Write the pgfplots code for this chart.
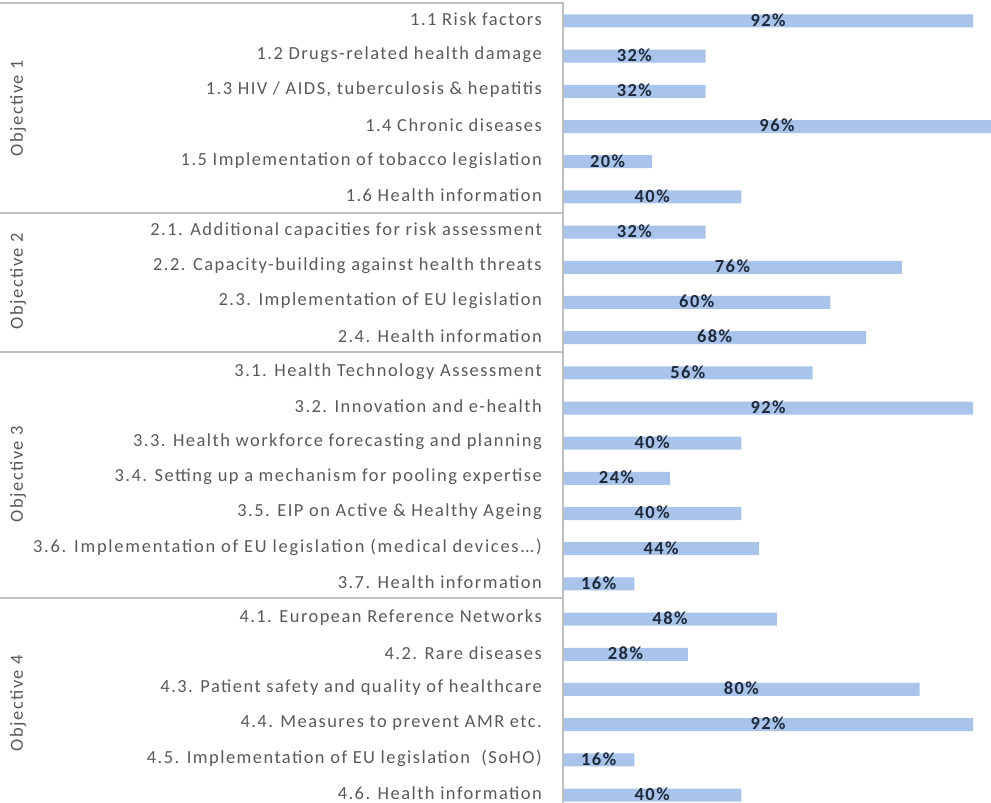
\documentclass[border=0pt]{standalone}
\usepackage{fontspec}
\setmainfont{Carlito}[LetterSpace=8]
\usepackage{pgfplots}
\usepackage{pgfplotstable}
\pgfplotsset{compat=1.18}
\definecolor{barblue}{RGB}{169,196,235}
\definecolor{lblgray}{RGB}{89,89,89}
\definecolor{valdark}{RGB}{30,42,60}
\definecolor{linegray}{RGB}{191,191,191}
\pgfplotstableread{
y v
22 92
21 32
20 32
19 96
18 20
17 40
16 32
15 76
14 60
13 68
12 56
11 92
10 40
9 24
8 40
7 44
6 16
5 48
4 28
3 80
2 92
1 16
0 40
}\datatable
\newcommand{\lblfont}{\fontsize{18.5}{20}\selectfont}
\newcommand{\threedots}{.\kern0pt.\kern0pt.}
\begin{document}
\begin{tikzpicture}
\useasboundingbox (0,0) rectangle (991bp,803bp);
\begin{axis}[
  at={(563bp,0bp)}, anchor=south west,
  scale only axis, width=428bp, height=803bp,
  xmin=0, xmax=96, ymin=-0.227, ymax=22.597,
  axis line style={draw=none},
  major tick length=0pt,
  xtick=\empty,
  ytick={0,1,2,3,4,5,6,7,8,9,10,11,12,13,14,15,16,17,18,19,20,21,22},
  yticklabels={
    {4.6. Health information},
    {4.5. Implementation of EU legislation\ \ (SoHO)},
    {4.4. Measures to prevent AMR etc.},
    {4.3. Patient safety and quality of healthcare},
    {4.2. Rare diseases\ },
    {4.1. European Reference Networks},
    {3.7. Health information},
    {\addfontfeature{LetterSpace=9.5}3.6. Implementation of EU legislation (medical devices\threedots)},
    {3.5. EIP on Active \& Healthy Ageing\ },
    {3.4. Setting up a mechanism for pooling expertise},
    {3.3. Health workforce forecasting and planning},
    {3.2. Innovation and e-health\ },
    {3.1. Health Technology Assessment\ },
    {2.4. Health information\ },
    {2.3. Implementation of EU legislation},
    {2.2. Capacity-building against health threats},
    {2.1. Additional capacities for risk assessment\ },
    {1.6 Health information},
    {1.5 Implementation of tobacco legislation},
    {1.4 Chronic diseases\ },
    {1.3 HIV / AIDS, tuberculosis \& hepatitis},
    {1.2 Drugs-related health damage},
    {1.1 Risk factors}
  },
  yticklabel style={font=\lblfont, text=lblgray, anchor=east, inner sep=0pt, xshift=-21bp, yshift=1.5bp},
  clip=false,
]
\addplot[xbar, bar width=13bp, fill=barblue, draw=none] table[x=v, y=y]{\datatable};
\addplot[draw=none, mark=none, nodes near coords={\pgfplotspointmeta\%},
  point meta=explicit symbolic,
  nodes near coords style={anchor=center, inner sep=0pt, yshift=1bp, font=\bfseries\lblfont, text=valdark}]
  table[x expr=\thisrow{v}/2, y=y, meta=v]{\datatable};
\end{axis}
\draw[linegray, line width=1.2bp] (0,800bp) -- (563bp,800bp) -- (563bp,0);
\draw[linegray, line width=1.2bp] (0,590bp) -- (563bp,590bp);
\draw[linegray, line width=1.2bp] (0,451bp) -- (563bp,451bp);
\draw[linegray, line width=1.2bp] (0,205bp) -- (563bp,205bp);
\node[rotate=90, font=\lblfont, text=lblgray] at (18bp,695bp) {Objective 1};
\node[rotate=90, font=\lblfont, text=lblgray] at (18bp,522bp) {Objective 2};
\node[rotate=90, font=\lblfont, text=lblgray] at (18bp,329bp) {Objective 3};
\node[rotate=90, font=\lblfont, text=lblgray] at (18bp,100bp) {Objective 4};
\end{tikzpicture}
\end{document}
